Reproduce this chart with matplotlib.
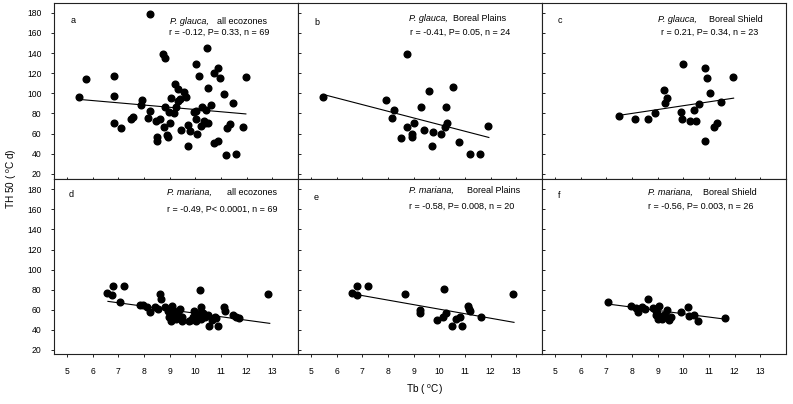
import matplotlib
matplotlib.use("Agg")
import matplotlib.pyplot as plt

plt.rcParams['font.family'] = ['Liberation Sans', 'DejaVu Sans']
plt.rcParams['mathtext.fontset'] = 'custom'
plt.rcParams['mathtext.rm'] = 'Liberation Sans'

# panel a - P. glauca, all ecozones
a_x = [5.46, 5.75, 6.82, 6.85, 6.83, 7.12, 7.49, 7.56, 7.92, 7.89, 8.15, 8.23, 8.25, 8.47, 8.51, 8.51, 8.64, 8.73,
       8.84, 8.77, 8.84, 8.90, 8.93, 8.97, 9.00, 9.06, 9.18, 9.21, 9.26, 9.31, 9.34, 9.39, 9.43, 9.57, 9.62, 9.71,
       9.73, 9.79, 9.95, 10.04, 10.04, 10.04, 10.08, 10.13, 10.23, 10.28, 10.33, 10.37, 10.42, 10.49, 10.45, 10.51,
       10.63, 10.72, 10.88, 10.73, 10.88, 10.97, 11.10, 11.21, 11.24, 11.35, 11.48, 11.59, 11.87, 11.97]
a_y = [96.2, 114.7, 117.7, 97.5, 70.3, 65.4, 74.3, 76.0, 92.9, 88.6, 75.0, 82.9, 178.7, 72.7, 56.4, 52.1, 74.0, 138.6,
       135.6, 66.4, 86.6, 58.7, 56.1, 81.3, 70.3, 95.8, 80.0, 109.4, 86.6, 103.8, 91.9, 94.5, 64.0, 101.8, 96.2, 68.4,
       47.8, 62.1, 81.3, 82.3, 129.3, 74.9, 59.4, 117.1, 67.4, 86.2, 72.7, 70.3, 83.3, 70.3, 144.9, 105.4,
       87.9, 120.4, 124.7, 50.8, 52.1, 115.4, 99.8, 38.9, 65.7, 69.6, 89.9, 39.2, 66.7, 116.1]
a_fit_x = [5.46, 11.97]
a_fit_y = [94.0, 79.5]

# panel b - P. glauca, Boreal Plains
b_x = [5.46, 7.93, 8.22, 8.14, 8.74, 8.76, 8.50, 8.92, 8.94, 9.00, 9.27, 9.41, 9.59, 9.77, 9.72, 10.06, 10.23, 10.28,
       10.31, 10.52, 10.75, 11.19, 11.59, 11.88]
b_y = [96.5, 92.9, 83.3, 75.3, 138.6, 66.4, 55.4, 56.8, 59.4, 70.0, 85.9, 63.7, 102.1, 61.7, 47.5, 59.4, 66.7, 86.6,
       70.7, 106.0, 51.5, 39.2, 39.2, 67.4]
b_fit_x = [5.49, 11.93]
b_fit_y = [98.8, 56.1]

# panel c - P. glauca, Boreal Shield
c_x = [7.51, 8.13, 8.63, 8.91, 9.26, 9.36, 9.28, 9.90, 9.98, 9.96, 10.26, 10.48, 10.41, 10.60, 10.84, 10.94, 11.05,
       10.85, 11.19, 11.32, 11.47, 11.92]
c_y = [77.0, 74.3, 74.3, 80.9, 103.5, 95.5, 90.5, 81.6, 129.6, 74.3, 72.0, 72.0, 83.6, 88.9, 124.7, 115.4, 100.2,
       52.8, 66.7, 70.3, 90.9, 116.4]
c_fit_x = [7.48, 11.96]
c_fit_y = [78.0, 95.2]

# panel d - P. mariana, all ecozones
d_x = [6.58, 6.77, 6.78, 7.22, 7.07, 7.85, 7.97, 8.11, 8.23, 8.42, 8.55, 8.63, 8.67, 8.84, 8.94, 8.99, 9.04, 9.08,
       9.13, 9.17, 9.26, 9.34, 9.39, 9.47, 9.49, 9.74, 9.84, 9.91, 9.96, 10.04, 10.10, 10.17, 10.18, 10.23, 10.24,
       10.32, 10.39, 10.50, 10.53, 10.64, 10.75, 10.81, 10.90, 11.10, 11.17, 11.48, 11.59, 11.69, 12.85]
d_y = [76.8, 74.8, 83.4, 83.4, 67.8, 64.5, 64.5, 62.5, 57.5, 62.5, 60.5, 75.4, 71.1, 62.5, 58.8, 52.8, 48.5, 63.8,
       59.8, 55.2, 50.5, 56.5, 60.5, 52.8, 48.5, 48.5, 50.2, 53.2, 59.2, 48.5, 53.2, 56.5, 80.1, 51.2, 63.1,
       56.5, 53.2, 55.2, 43.9, 49.9, 53.2, 51.5, 44.2, 62.5, 59.2, 54.8, 53.2, 51.5, 76.1]
d_fit_x = [6.60, 12.90]
d_fit_y = [68.4, 46.5]

# panel e - P. mariana, Boreal Plains
e_x = [6.59, 6.80, 6.79, 7.23, 8.65, 9.24, 9.24, 10.19, 9.90, 10.15, 10.25, 10.49, 10.67, 10.81, 10.90, 11.13, 11.21,
       11.61, 12.86, 11.16]
e_y = [77.1, 83.7, 74.8, 83.7, 75.8, 59.8, 56.8, 80.4, 49.5, 52.8, 57.2, 43.9, 50.5, 52.5, 44.2, 63.8, 58.5,
       53.2, 75.8, 60.5]
e_fit_x = [6.80, 12.91]
e_fit_y = [75.1, 47.5]

# panel f - P. mariana, Boreal Shield
f_x = [7.05, 7.96, 8.15, 8.22, 8.41, 8.51, 8.64, 8.82, 8.92, 9.06, 8.95, 9.03, 9.10, 9.18, 9.28, 9.37, 9.44, 9.90,
       10.20, 10.21, 10.40, 10.57, 11.64, 8.99, 9.26, 9.54]
f_y = [68.1, 64.1, 62.1, 57.8, 63.1, 60.5, 71.1, 62.1, 59.2, 63.8, 54.8, 50.5, 53.2, 50.5, 53.8, 59.8, 49.5, 58.2,
       63.1, 53.5, 55.2, 49.2, 51.5, 56.5, 55.0, 53.2]
f_fit_x = [7.05, 11.66]
f_fit_y = [65.8, 50.6]

letters = ['a', 'b', 'c', 'd', 'e', 'f']
species = ['P. glauca,', 'P. glauca,', 'P. glauca,', 'P. mariana,', 'P. mariana,', 'P. mariana,']
zones = ['all ecozones', 'Boreal Plains', 'Boreal Shield', 'all ecozones', 'Boreal Plains', 'Boreal Shield']
stats = ['r = -0.12, P= 0.33, n = 69', 'r = -0.41, P= 0.05, n = 24', 'r = 0.21, P= 0.34, n = 23',
         'r = -0.49, P< 0.0001, n = 69', 'r = -0.58, P= 0.008, n = 20', 'r = -0.56, P= 0.003, n = 26']
xticks = [5, 6, 7, 8, 9, 10, 11, 12, 13]
yticks = [20, 40, 60, 80, 100, 120, 140, 160, 180]

xs = [a_x, b_x, c_x, d_x, e_x, f_x]
ys = [a_y, b_y, c_y, d_y, e_y, f_y]
fxs = [a_fit_x, b_fit_x, c_fit_x, d_fit_x, e_fit_x, f_fit_x]
fys = [a_fit_y, b_fit_y, c_fit_y, d_fit_y, e_fit_y, f_fit_y]

# text placement (axes fraction) per panel
letter_pos = [(0.068, 0.903), (0.066, 0.892), (0.066, 0.900), (0.059, 0.914), (0.063, 0.895), (0.067, 0.909)]
sp_pos = [(0.475, 0.894), (0.455, 0.913), (0.475, 0.907), (0.462, 0.924), (0.455, 0.937), (0.436, 0.927)]
zone_pos = [0.668, 0.634, 0.684, 0.708, 0.694, 0.659]
stat_pos = [(0.473, 0.834), (0.459, 0.834), (0.486, 0.834), (0.462, 0.829), (0.455, 0.846), (0.436, 0.847)]

fig = plt.figure(figsize=(7.93, 4.04), dpi=100)
col_left = [0.0681, 0.3758, 0.6835]
col_w = 0.3077
row_bottom = [0.5562, 0.1238]
row_h = [0.4356, 0.4324]
row_ylim = [(14.5, 189.5), (16, 190)]

for i in range(6):
    row = i // 3
    col = i % 3
    ax = fig.add_axes([col_left[col], row_bottom[row], col_w, row_h[row]])
    ax.plot(xs[i], ys[i], 'o', color='black', ms=4.8, mec='black', zorder=3)
    ax.plot(fxs[i], fys[i], '-', color='black', lw=0.8, zorder=2)
    ax.set_xlim(4.5, 14)
    ax.set_ylim(*row_ylim[row])
    ax.set_xticks(xticks)
    ax.set_yticks(yticks)
    for s in ax.spines.values():
        s.set_linewidth(0.8)
        s.set_color('#222222')
    if col == 0:
        ax.tick_params(axis='y', direction='out', length=2.5, width=0.6, labelsize=6.2, pad=6.5)
    else:
        ax.tick_params(axis='y', direction='in', length=2.5, width=0.6, labelleft=False)
    if row == 0:
        ax.tick_params(axis='x', direction='inout', length=3, width=0.6, labelbottom=False)
    else:
        ax.tick_params(axis='x', direction='out', length=2.5, width=0.6, labelsize=6.2, pad=7)
    ax.text(letter_pos[i][0], letter_pos[i][1], letters[i], transform=ax.transAxes, fontsize=6.5, va='center')
    ax.text(sp_pos[i][0], sp_pos[i][1], species[i], transform=ax.transAxes, fontsize=6.5, style='italic', va='center')
    ax.text(zone_pos[i], sp_pos[i][1], zones[i], transform=ax.transAxes, fontsize=6.5, va='center')
    ax.text(stat_pos[i][0], stat_pos[i][1], stats[i], transform=ax.transAxes, fontsize=6.5, va='center')

fig.text(0.015, 0.557, r'TH 50 ( $^{\mathrm{o}}$C d)', rotation=90, ha='center', va='center', fontsize=7.2)
fig.text(0.535, 0.035, r'Tb ( $^{\mathrm{o}}$C)', ha='center', va='center', fontsize=7.2)

fig.savefig('out.png', dpi=100)
